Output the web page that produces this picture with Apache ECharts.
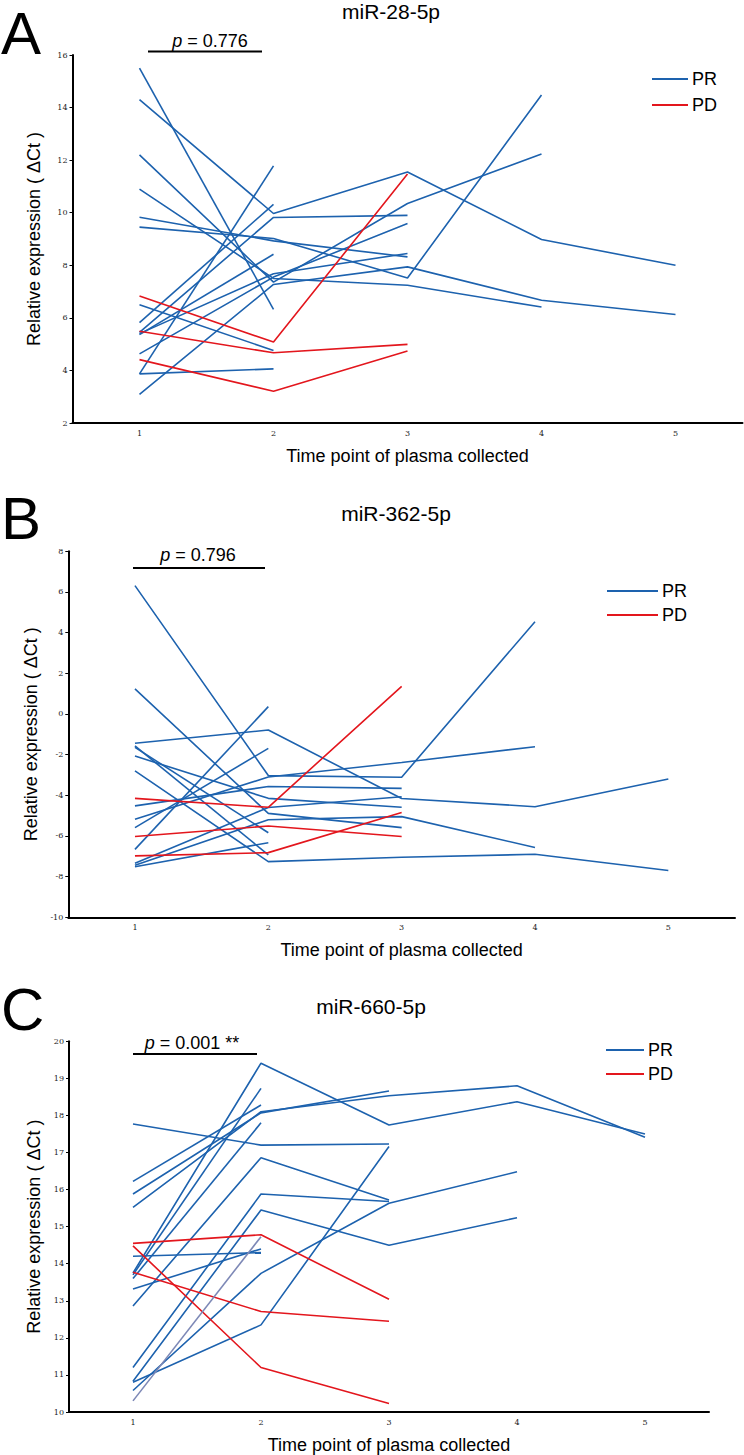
<!DOCTYPE html>
<html><head><meta charset="utf-8">
<script src="https://cdn.jsdelivr.net/npm/echarts@6/dist/echarts.min.js"></script>
<style>html,body{margin:0;padding:0;background:#fff}#c{width:744px;height:1455px}</style>
</head><body><div id="c"></div>
<script>
// ---- DATA ----
const timePoints = ['1', '2', '3', '4', '5'];
const panelTitles = ['miR-28-5p', 'miR-362-5p', 'miR-660-5p'];
const panelLetters = ['A', 'B', 'C'];
const pValues = ['0.776', '0.796', '0.001 **'];
const yTicksA = [2, 16, 2];
const yTicksB = [-10, 8, 2];
const yTicksC = [10, 20, 1];

// miR-28-5p, PR (partial response) patients, values at time points 1..5
const prA = [
  [15.5, 6.32],
  [14.3, 9.97, 11.55, 8.98, 8.0],
  [12.2, 7.36, 10.35, 12.23],
  [10.9, 7.5, 7.24, 6.41],
  [9.83, 8.93, 8.32],
  [9.45, 9.02, 7.52, 14.48],
  [6.5, 4.76],
  [5.82, 10.32],
  [5.45, 9.82, 9.9],
  [5.36, 8.42],
  [5.4, 7.68, 8.45],
  [4.63, 7.55, 9.59],
  [3.87, 4.06],
  [3.87, 11.78],
  [3.09, 7.27, 7.94, 6.67, 6.13]
];
const pdA = [
  [6.83, 5.08, 11.47],
  [5.49, 4.67, 4.99],
  [4.41, 3.21, 4.74]
];
// miR-362-5p
const prB = [
  [6.31, -3.03, -3.11, 4.54],
  [1.23, -4.89, -5.59],
  [-1.44, -0.79, -4.16, -4.56, -3.2],
  [-1.57, -6.93],
  [-1.64, -5.84],
  [-2.07, -4.15, -4.59],
  [-2.8, -7.26, -7.05, -6.9, -7.7],
  [-4.52, -3.57, -3.66],
  [-5.18, -3.1, -2.39, -1.61],
  [-5.59, -1.69],
  [-6.66, 0.36],
  [-7.34, -4.6, -4.07],
  [-7.44, -5.2, -5.05, -6.57],
  [-7.51, -6.33]
];
const pdB = [
  [-4.15, -4.59, 1.36],
  [-6.03, -5.51, -6.03],
  [-6.98, -6.82, -4.85]
];
// miR-660-5p
const prC = [
  [17.77, 17.2, 17.23],
  [16.22, 18.28],
  [15.88, 18.07, 18.66],
  [15.52, 18.1, 18.53, 18.8, 17.41],
  [14.2, 14.3],
  [13.75, 19.41, 17.74, 18.37, 17.5],
  [13.7, 18.73],
  [13.6, 17.8],
  [13.32, 14.4],
  [12.86, 16.86, 15.72],
  [11.2, 15.88, 15.68],
  [10.83, 15.45, 14.5, 15.24],
  [10.8, 12.35, 17.16],
  [10.58, 13.74, 15.63, 16.48]
];
const prCgrey = [
  [10.3, 14.73]
];
const pdC = [
  [14.55, 14.78, 13.04],
  [13.77, 12.71, 12.45],
  [14.48, 11.2, 10.23]
];

// ---- STYLE / LAYOUT ----
const BLUE = '#1d62ae', RED = '#e3161d', GREY = '#7d88b6';
const FONT = 'Liberation Sans, Arial, sans-serif';
const grids = [
  {left: 72.5, right: 1.5, top: 55, height: 368},
  {left: 68.3, right: 9, top: 551.3, height: 366},
  {left: 69, right: 35, top: 1041.3, height: 370.7}
];
const yTicks = [yTicksA, yTicksB, yTicksC];
const yNameGap = [30, 27, 22];
const legendPos = [
  {left: 647, top: 65, w: 36, gap: 8},
  {left: 602, top: 577, w: 51, gap: 6},
  {left: 601, top: 1036, w: 38, gap: 6}
];
const titlePos = [{x: 391, y: 11}, {x: 396, y: 513}, {x: 371, y: 1006}];
const letterPos = [{y: 33}, {y: 518}, {y: 1009}];
const pTextPos = [{x: 210, y: 41}, {x: 198, y: 555}, {x: 192, y: 1043}];
const pLinePos = [{x1: 148, x2: 262, y: 51.5}, {x1: 133, x2: 265, y: 568}, {x1: 133, x2: 257, y: 1054}];

const pad = r => timePoints.map((_, i) => (r[i] === undefined ? null : r[i]));
const series = [];
function add(rows, name, color, gi) {
  rows.forEach(r => series.push({
    type: 'line', name: name, xAxisIndex: gi, yAxisIndex: gi,
    data: pad(r), symbol: 'none', silent: true,
    lineStyle: {color: color, width: 1.6}, itemStyle: {color: color}
  }));
}
[[prA, pdA, null], [prB, pdB, null], [prC, pdC, prCgrey]].forEach((g, gi) => {
  add(g[0], 'PR', BLUE, gi);
  add(g[1], 'PD', RED, gi);
  if (g[2]) add(g[2], 'PR', GREY, gi);
});

const xAxis = grids.map((_, gi) => ({
  type: 'category', gridIndex: gi, data: timePoints, boundaryGap: true,
  axisLine: {onZero: false, lineStyle: {color: '#000', width: 2}},
  axisTick: {length: 3, lineStyle: {color: '#000', width: 1}},
  axisLabel: {fontSize: 8, color: '#222', fontFamily: 'DejaVu Serif, serif', margin: 6},
  name: 'Time point of plasma collected', nameLocation: 'middle', nameGap: 24,
  nameTextStyle: {fontSize: 18, color: '#000', fontFamily: FONT}
}));
const yAxis = grids.map((_, gi) => ({
  type: 'value', gridIndex: gi, min: yTicks[gi][0], max: yTicks[gi][1], interval: yTicks[gi][2],
  splitLine: {show: false},
  axisLine: {show: true, onZero: false, lineStyle: {color: '#000', width: 2}},
  axisTick: {show: true, length: 3, lineStyle: {color: '#000', width: 1}},
  axisLabel: {fontSize: 8, color: '#222', fontFamily: 'DejaVu Serif, serif', margin: 5},
  name: 'Relative expression ( \u0394Ct )', nameLocation: 'middle', nameGap: yNameGap[gi],
  nameTextStyle: {fontSize: 18, color: '#000', fontFamily: FONT}
}));
const legend = legendPos.map(p => ({
  data: ['PR', 'PD'], orient: 'vertical', left: p.left, top: p.top,
  icon: 'rect', itemWidth: p.w, itemHeight: 2, itemGap: p.gap,
  textStyle: {fontSize: 18, color: '#000', fontFamily: FONT, padding: [0, 0, 0, -1]},
  selectedMode: false
}));
const graphic = [];
panelTitles.forEach((t, i) => {
  graphic.push({type: 'text', x: titlePos[i].x, y: titlePos[i].y, silent: true,
    style: {text: t, fill: '#000', font: '21px ' + FONT, textAlign: 'center', textVerticalAlign: 'middle'}});
  graphic.push({type: 'text', x: 1, y: letterPos[i].y, silent: true,
    style: {text: panelLetters[i], fill: '#000', font: '60px ' + FONT, textAlign: 'left', textVerticalAlign: 'middle'}});
  graphic.push({type: 'text', x: pTextPos[i].x, y: pTextPos[i].y, silent: true,
    style: {text: '{i|p} = ' + pValues[i], fill: '#000', font: '18px ' + FONT, textAlign: 'center', textVerticalAlign: 'middle',
      rich: {i: {fontStyle: 'italic', fontSize: 18, fontFamily: FONT}}}});
  graphic.push({type: 'line', silent: true,
    shape: {x1: pLinePos[i].x1, y1: pLinePos[i].y, x2: pLinePos[i].x2, y2: pLinePos[i].y},
    style: {stroke: '#000', lineWidth: 2}});
});

const chart = echarts.init(document.getElementById('c'), null, {renderer: 'svg'});
chart.setOption({
  animation: false, backgroundColor: '#fff',
  grid: grids, xAxis: xAxis, yAxis: yAxis, legend: legend, series: series, graphic: graphic
});
</script></body></html>
